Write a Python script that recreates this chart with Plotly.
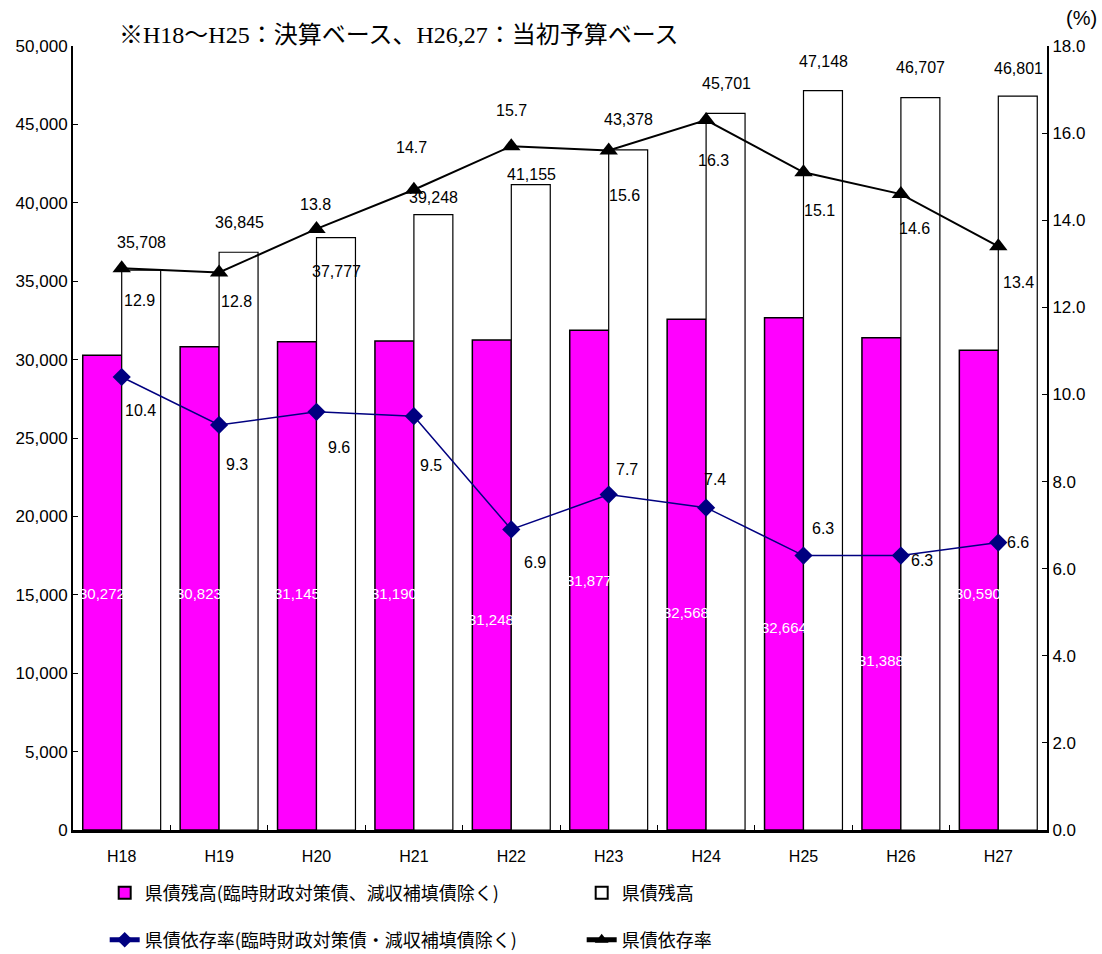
import plotly.graph_objects as go

# 年度
years = ["H18", "H19", "H20", "H21", "H22", "H23", "H24", "H25", "H26", "H27"]

# 県債残高（臨時財政対策債、減収補填債除く）（百万円）
debt_excl = [30272, 30823, 31145, 31190, 31248, 31877, 32568, 32664, 31388, 30590]
# 県債残高（百万円）
debt_total = [35708, 36845, 37777, 39248, 41155, 43378, 45701, 47148, 46707, 46801]
# 県債依存率（臨時財政対策債・減収補填債除く）（%）
rate_excl = [10.4, 9.3, 9.6, 9.5, 6.9, 7.7, 7.4, 6.3, 6.3, 6.6]
# 県債依存率（%）
rate_total = [12.9, 12.8, 13.8, 14.7, 15.7, 15.6, 16.3, 15.1, 14.6, 13.4]

# label placement (layout only)
excl_label_y = [15100, 15100, 15100, 15100, 13400, 15900, 13900, 12900, 10800, 15100]
total_label_dy = [28, 30, -34, 17, 10, 30, 30, 29, 30, 28]
rate_total_dx = [18, 17, -1, -2, 0, 16, 7, 16, 14, 20]
rate_total_dy = [-32, -29, 24, 42, 36, -45, -40, -38, -34, -36]
rate_excl_dx = [19, 18, 22, 17, 24, 18, 9, 19, 21, 20]
rate_excl_dy = [-33, -40, -36, -49, -33, 25, 28, 27, -5, 0]

NUM_FONT = "Liberation Sans Narrow, Arial Narrow, Liberation Sans, Arial, sans-serif"
JP_FONT = "Noto Sans CJK JP, sans-serif"
SERIF_FONT = "Liberation Serif, Noto Sans CJK JP, serif"

fig = go.Figure()

fig.add_trace(go.Bar(
    x=years, y=debt_excl, name="県債残高(臨時財政対策債、減収補填債除く)",
    marker=dict(color="#FF00FF", line=dict(color="black", width=1.5)),
    offsetgroup="a", yaxis="y", legend="legend",
))
fig.add_trace(go.Bar(
    x=years, y=debt_total, name="県債残高",
    marker=dict(color="white", line=dict(color="black", width=1.2)),
    offsetgroup="b", yaxis="y", legend="legend",
))
fig.add_trace(go.Scatter(
    x=years, y=rate_excl, name="県債依存率(臨時財政対策債・減収補填債除く)",
    mode="lines+markers", yaxis="y2", legend="legend2",
    line=dict(color="#000080", width=1.5),
    marker=dict(symbol="diamond", size=14, color="#000080"),
))
fig.add_trace(go.Scatter(
    x=years, y=rate_total, name="県債依存率",
    mode="lines+markers", yaxis="y2", legend="legend2",
    line=dict(color="black", width=2),
    marker=dict(symbol="triangle-up", size=16, color="black"),
))

ann = []
for i, yr in enumerate(years):
    ann.append(dict(x=yr, y=excl_label_y[i], xref="x", yref="y", xshift=-20,
                    text=f"{debt_excl[i]:,}", showarrow=False,
                    font=dict(family=NUM_FONT, size=15, color="white")))
    ann.append(dict(x=yr, y=debt_total[i], xref="x", yref="y", xshift=20,
                    yshift=total_label_dy[i],
                    text=f"{debt_total[i]:,}", showarrow=False,
                    font=dict(family=NUM_FONT, size=16, color="black")))
    ann.append(dict(x=yr, y=rate_total[i], xref="x", yref="y2",
                    xshift=rate_total_dx[i], yshift=rate_total_dy[i],
                    text=f"{rate_total[i]:.1f}", showarrow=False,
                    font=dict(family=NUM_FONT, size=16, color="black")))
    ann.append(dict(x=yr, y=rate_excl[i], xref="x", yref="y2",
                    xshift=rate_excl_dx[i], yshift=rate_excl_dy[i],
                    text=f"{rate_excl[i]:.1f}", showarrow=False,
                    font=dict(family=NUM_FONT, size=16, color="black")))

ann.append(dict(x=0.045, y=1.014, xref="paper", yref="paper", xanchor="left",
                yanchor="middle", showarrow=False,
                text="※H18～H25：決算ベース、H26,27：当初予算ベース",
                font=dict(family=SERIF_FONT, size=24, color="black")))
ann.append(dict(x=1.035, y=1.036, xref="paper", yref="paper", xanchor="center",
                yanchor="middle", showarrow=False, text="(%)",
                font=dict(family=NUM_FONT, size=20, color="black")))

legend_common = dict(orientation="h", xref="container", xanchor="left",
                     yref="container", yanchor="middle",
                     entrywidth=432, entrywidthmode="pixels", traceorder="normal",
                     font=dict(family=JP_FONT, size=18, color="black"),
                     itemsizing="constant", bgcolor="rgba(0,0,0,0)")

fig.update_layout(
    width=1102, height=954,
    margin=dict(l=73, r=55, t=46, b=124, autoexpand=False),
    paper_bgcolor="white", plot_bgcolor="white",
    barmode="group", bargap=0.2, bargroupgap=0,
    showlegend=True,
    legend=dict(x=0.095, y=0.064, **legend_common),
    legend2=dict(x=0.095, y=0.0147, **legend_common),
    xaxis=dict(showline=True, linecolor="black", linewidth=3,
               ticks="inside", tickson="boundaries", ticklen=5, tickcolor="black",
               range=[-0.5, 9.5], autorange=False, automargin=False,
               ticklabelstandoff=10,
               tickfont=dict(family=NUM_FONT, size=16, color="black"),
               showgrid=False),
    yaxis=dict(range=[0, 50000], dtick=5000, tickformat=",", showline=True,
               linecolor="black", linewidth=2, ticks="inside", ticklen=5,
               tickcolor="black", showgrid=False, zeroline=False, automargin=False,
               tickfont=dict(family=NUM_FONT, size=17, color="black")),
    yaxis2=dict(range=[0, 18], dtick=2, tickformat=".1f", overlaying="y",
                side="right", showline=True, linecolor="black", linewidth=2,
                ticks="inside", ticklen=5, tickcolor="black", showgrid=False,
                zeroline=False, automargin=False,
                tickfont=dict(family=NUM_FONT, size=17, color="black")),
    annotations=ann,
)

fig.write_html("out.html")
